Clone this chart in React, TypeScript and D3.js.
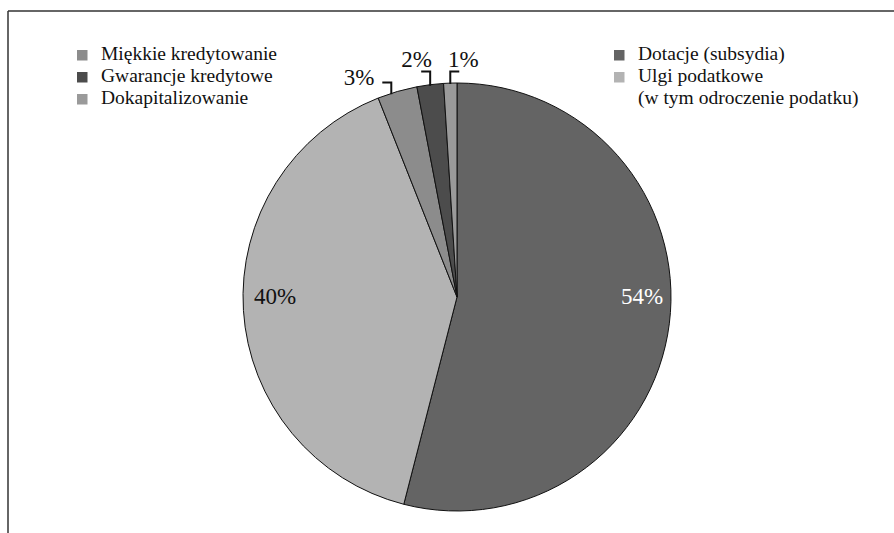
import { useRef, useEffect } from "react";
import * as d3 from "d3";

const CATEGORIES = [
  "Dotacje (subsydia)",
  "Ulgi podatkowe",
  "Miękkie kredytowanie",
  "Gwarancje kredytowe",
  "Dokapitalizowanie",
];
const VALUES = [54, 40, 3, 2, 1];
const LABELS = ["54%", "40%", "3%", "2%", "1%"];
const COLORS = ["#646464", "#b3b3b3", "#8c8c8c", "#4c4c4c", "#9a9a9a"];

const LEGEND_LEFT = ["Miękkie kredytowanie", "Gwarancje kredytowe", "Dokapitalizowanie"];
const LEGEND_RIGHT = ["Dotacje (subsydia)", "Ulgi podatkowe"];

const WIDTH = 894;
const HEIGHT = 533;
const CX = 457;
const CY = 297;
const R = 214;
const FONT = "Liberation Serif, Times New Roman, Times, serif";

export default function App() {
  const svgRef = useRef<SVGSVGElement>(null);

  useEffect(() => {
    const svg = d3.select(svgRef.current);
    svg.selectAll("*").remove();

    // frame (top + left only)
    svg.append("line").attr("x1", 8).attr("x2", WIDTH).attr("y1", 11).attr("y2", 11)
      .attr("stroke", "#333").attr("stroke-width", 1.5);
    svg.append("line").attr("x1", 8).attr("x2", 8).attr("y1", 11).attr("y2", HEIGHT)
      .attr("stroke", "#333").attr("stroke-width", 1.5);

    const color = d3.scaleOrdinal<string, string>().domain(CATEGORIES).range(COLORS);
    const data = CATEGORIES.map((c, i) => ({ cat: c, value: VALUES[i], label: LABELS[i] }));
    const arcs = d3.pie<typeof data[number]>().sort(null).value((d) => d.value)(data);
    const arc = d3.arc<d3.PieArcDatum<typeof data[number]>>().innerRadius(0).outerRadius(R);

    const g = svg.append("g").attr("transform", `translate(${CX},${CY})`);
    g.selectAll("path")
      .data(arcs)
      .join("path")
      .attr("d", arc)
      .attr("fill", (d) => color(d.data.cat))
      .attr("stroke", "#111")
      .attr("stroke-width", 1);

    // big labels, inside near the edge, horizontal through center
    arcs.forEach((a, i) => {
      if (i > 1) return;
      const mid = (a.startAngle + a.endAngle) / 2;
      const side = Math.sin(mid) >= 0 ? 1 : -1;
      g.append("text")
        .attr("x", side * R * (side > 0 ? 0.865 : 0.85))
        .attr("y", 7)
        .attr("text-anchor", "middle")
        .attr("font-family", FONT)
        .attr("font-size", 23)
        .attr("fill", i === 0 ? "#ffffff" : "#111")
        .text(a.data.label);
    });

    // small slices: bracket leaders
    const leaderTop = [0, 0, -214.5, -225.5, -225.5];
    const labelDx = [0, 0, -17, -13.5, 13];
    const anchors = ["", "", "end", "middle", "middle"];
    const hDir = [0, 0, -1, -1, 1];
    const baseDy = [0, 0, 2.5, -5, -5];
    arcs.forEach((a, i) => {
      if (i < 2) return;
      const mid = (a.startAngle + a.endAngle) / 2;
      const x = R * Math.sin(mid) + (i === 2 ? -6 : 0);
      const yEdge = -Math.sqrt(R * R - x * x);
      const yTop = leaderTop[i];
      g.append("path")
        .attr("d", `M${x},${yEdge + 1}V${yTop}H${x + hDir[i] * 9}`)
        .attr("fill", "none")
        .attr("stroke", "#111")
        .attr("stroke-width", 2);
      g.append("text")
        .attr("x", x + labelDx[i])
        .attr("y", yTop + baseDy[i])
        .attr("text-anchor", anchors[i])
        .attr("font-family", FONT)
        .attr("font-size", 23)
        .attr("fill", "#111")
        .text(a.data.label);
    });

    // legends
    const drawLegend = (items: string[], x: number, extra: string[]) => {
      const lg = svg.append("g").attr("transform", `translate(${x},0)`);
      items.forEach((name, i) => {
        const y = 60 + i * 22;
        lg.append("rect").attr("x", 0).attr("y", y - 10).attr("width", 10.5).attr("height", 10.5)
          .attr("fill", color(name));
        lg.append("text").attr("x", 24).attr("y", y)
          .attr("font-family", FONT).attr("font-size", 19.5).attr("fill", "#111")
          .text(name);
      });
      extra.forEach((t, j) => {
        lg.append("text").attr("x", 24).attr("y", 60 + (items.length + j) * 22)
          .attr("font-family", FONT).attr("font-size", 19.5).attr("fill", "#111")
          .text(t);
      });
    };
    drawLegend(LEGEND_LEFT, 77, []);
    drawLegend(LEGEND_RIGHT, 614, ["(w tym odroczenie podatku)"]);
  }, []);

  return (
    <svg
      ref={svgRef}
      width={WIDTH}
      height={HEIGHT}
      style={{ position: "absolute", left: 0, top: 0, background: "#fff" }}
    />
  );
}
